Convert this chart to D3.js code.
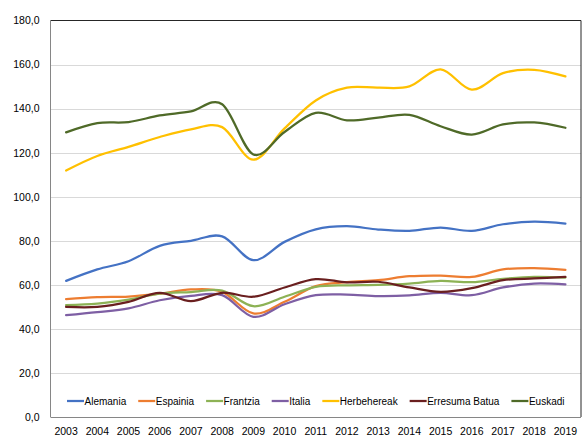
<!DOCTYPE html>
<html><head><meta charset="utf-8">
<script src="https://cdn.jsdelivr.net/npm/d3@7"></script>
<style>body{margin:0;background:#fff}svg{display:block}</style>
</head><body>
<svg id="chart" width="585" height="441"></svg>
<script>
const years = ["2003","2004","2005","2006","2007","2008","2009","2010","2011","2012","2013","2014","2015","2016","2017","2018","2019"];
const yTicks = [0,20,40,60,80,100,120,140,160,180];
const seriesNames = ["Alemania","Espainia","Frantzia","Italia","Herbehereak","Erresuma Batua","Euskadi"];
const seriesColors = ["#4472C4","#ED7D31","#8DB255","#7E5FA4","#FFC000","#6A1F1F","#4F6A28"];
const alemania   = [61.8,67.0,70.7,77.7,80.0,82.0,71.2,79.5,85.2,86.6,85.1,84.5,86.0,84.5,87.5,88.7,87.8];
const espainia   = [53.5,54.4,54.7,56.0,57.9,56.8,47.0,52.3,59.4,61.2,62.1,63.9,64.2,63.6,67.0,67.6,66.8];
const frantzia   = [50.8,51.5,53.3,56.0,56.7,57.4,50.3,54.6,59.1,59.8,60.0,60.6,61.8,61.2,62.7,63.6,63.3];
const italia     = [46.2,47.6,49.3,53.0,55.0,55.3,45.5,51.2,55.3,55.6,54.9,55.2,56.4,55.3,58.8,60.6,60.2];
const herbehereak= [111.9,118.5,122.6,127.1,130.6,131.6,116.8,131.0,143.7,149.5,149.5,150.1,157.8,148.6,156.1,157.6,154.6];
const erresuma   = [50.0,50.0,52.3,56.4,52.6,56.4,54.6,58.8,62.6,61.1,61.4,58.8,56.8,58.5,62.1,62.9,63.6];
const euskadi    = [129.2,133.4,133.9,136.9,138.7,142.0,119.2,129.4,138.1,134.7,135.9,137.2,132.0,128.2,132.8,133.7,131.3];
const seriesValues = [alemania,espainia,frantzia,italia,herbehereak,erresuma,euskadi];

const svg = d3.select("#chart");
const L = 50.5, T = 20.5, R = 581, B = 417;
const x = d3.scaleBand().domain(years).range([L, R]);
const y = d3.scaleLinear().domain([0,180]).range([B, T]);
const font = "'Liberation Sans', Arial, sans-serif";

// gridlines
svg.append("g").selectAll("line").data(yTicks.filter(d=>d>0 && d<180)).join("line")
  .attr("x1", L).attr("x2", R)
  .attr("y1", d=>Math.round(y(d))+0.5).attr("y2", d=>Math.round(y(d))+0.5)
  .attr("stroke", "#D9D9D9").attr("stroke-width", 1);

// y axis labels
const yAxis = d3.axisLeft(y).tickValues(yTicks).tickSize(0).tickPadding(11)
  .tickFormat(d => d3.format(".1f")(d).replace(".", ","));
const gy = svg.append("g").attr("transform", `translate(${L},0)`).call(yAxis);
gy.select(".domain").remove();
gy.selectAll("text").attr("font-family", font).attr("font-size", 10.5).attr("fill", "#000");

// x axis labels
const xAxis = d3.axisBottom(x).tickSize(0).tickPadding(11);
const gx = svg.append("g").attr("transform", `translate(0,${B})`).call(xAxis);
gx.select(".domain").remove();
gx.selectAll("text").attr("font-family", font).attr("font-size", 10.5).attr("fill", "#000");

// plot border
svg.append("line").attr("x1", L).attr("x2", R).attr("y1", T).attr("y2", T).attr("stroke", "#262626");
svg.append("line").attr("x1", R).attr("x2", R).attr("y1", T).attr("y2", B).attr("stroke", "#262626");
svg.append("line").attr("x1", L).attr("x2", L).attr("y1", T).attr("y2", B).attr("stroke", "#868686");
svg.append("line").attr("x1", L).attr("x2", R).attr("y1", B+0.5).attr("y2", B+0.5).attr("stroke", "#868686");

// lines
const line = d3.line()
  .x((d,i) => x(years[i]) + x.bandwidth()/2)
  .y(d => y(d))
  .curve(d3.curveCardinal.tension(0));
seriesValues.forEach((vals, k) => {
  svg.append("path").datum(vals).attr("d", line)
    .attr("fill", "none").attr("stroke", seriesColors[k]).attr("stroke-width", 2.25)
    .attr("stroke-linecap", "round").attr("stroke-linejoin", "round");
});

// legend
const lg = svg.append("g");
let cx = 0;
const ly = 401;
seriesNames.forEach((name, k) => {
  const g = lg.append("g").attr("transform", `translate(${cx},0)`);
  g.append("line").attr("x1", 0).attr("x2", 17).attr("y1", ly).attr("y2", ly)
    .attr("stroke", seriesColors[k]).attr("stroke-width", 2.25);
  const t = g.append("text").attr("x", 17.5).attr("y", ly + 3.8).text(name)
    .attr("font-family", font).attr("font-size", 10).attr("fill", "#000");
  cx += 17.5 + t.node().getComputedTextLength() + 12;
});
const totalW = cx - 12;
lg.attr("transform", `translate(${(L+R)/2 - totalW/2},0)`);
</script>
</body></html>
